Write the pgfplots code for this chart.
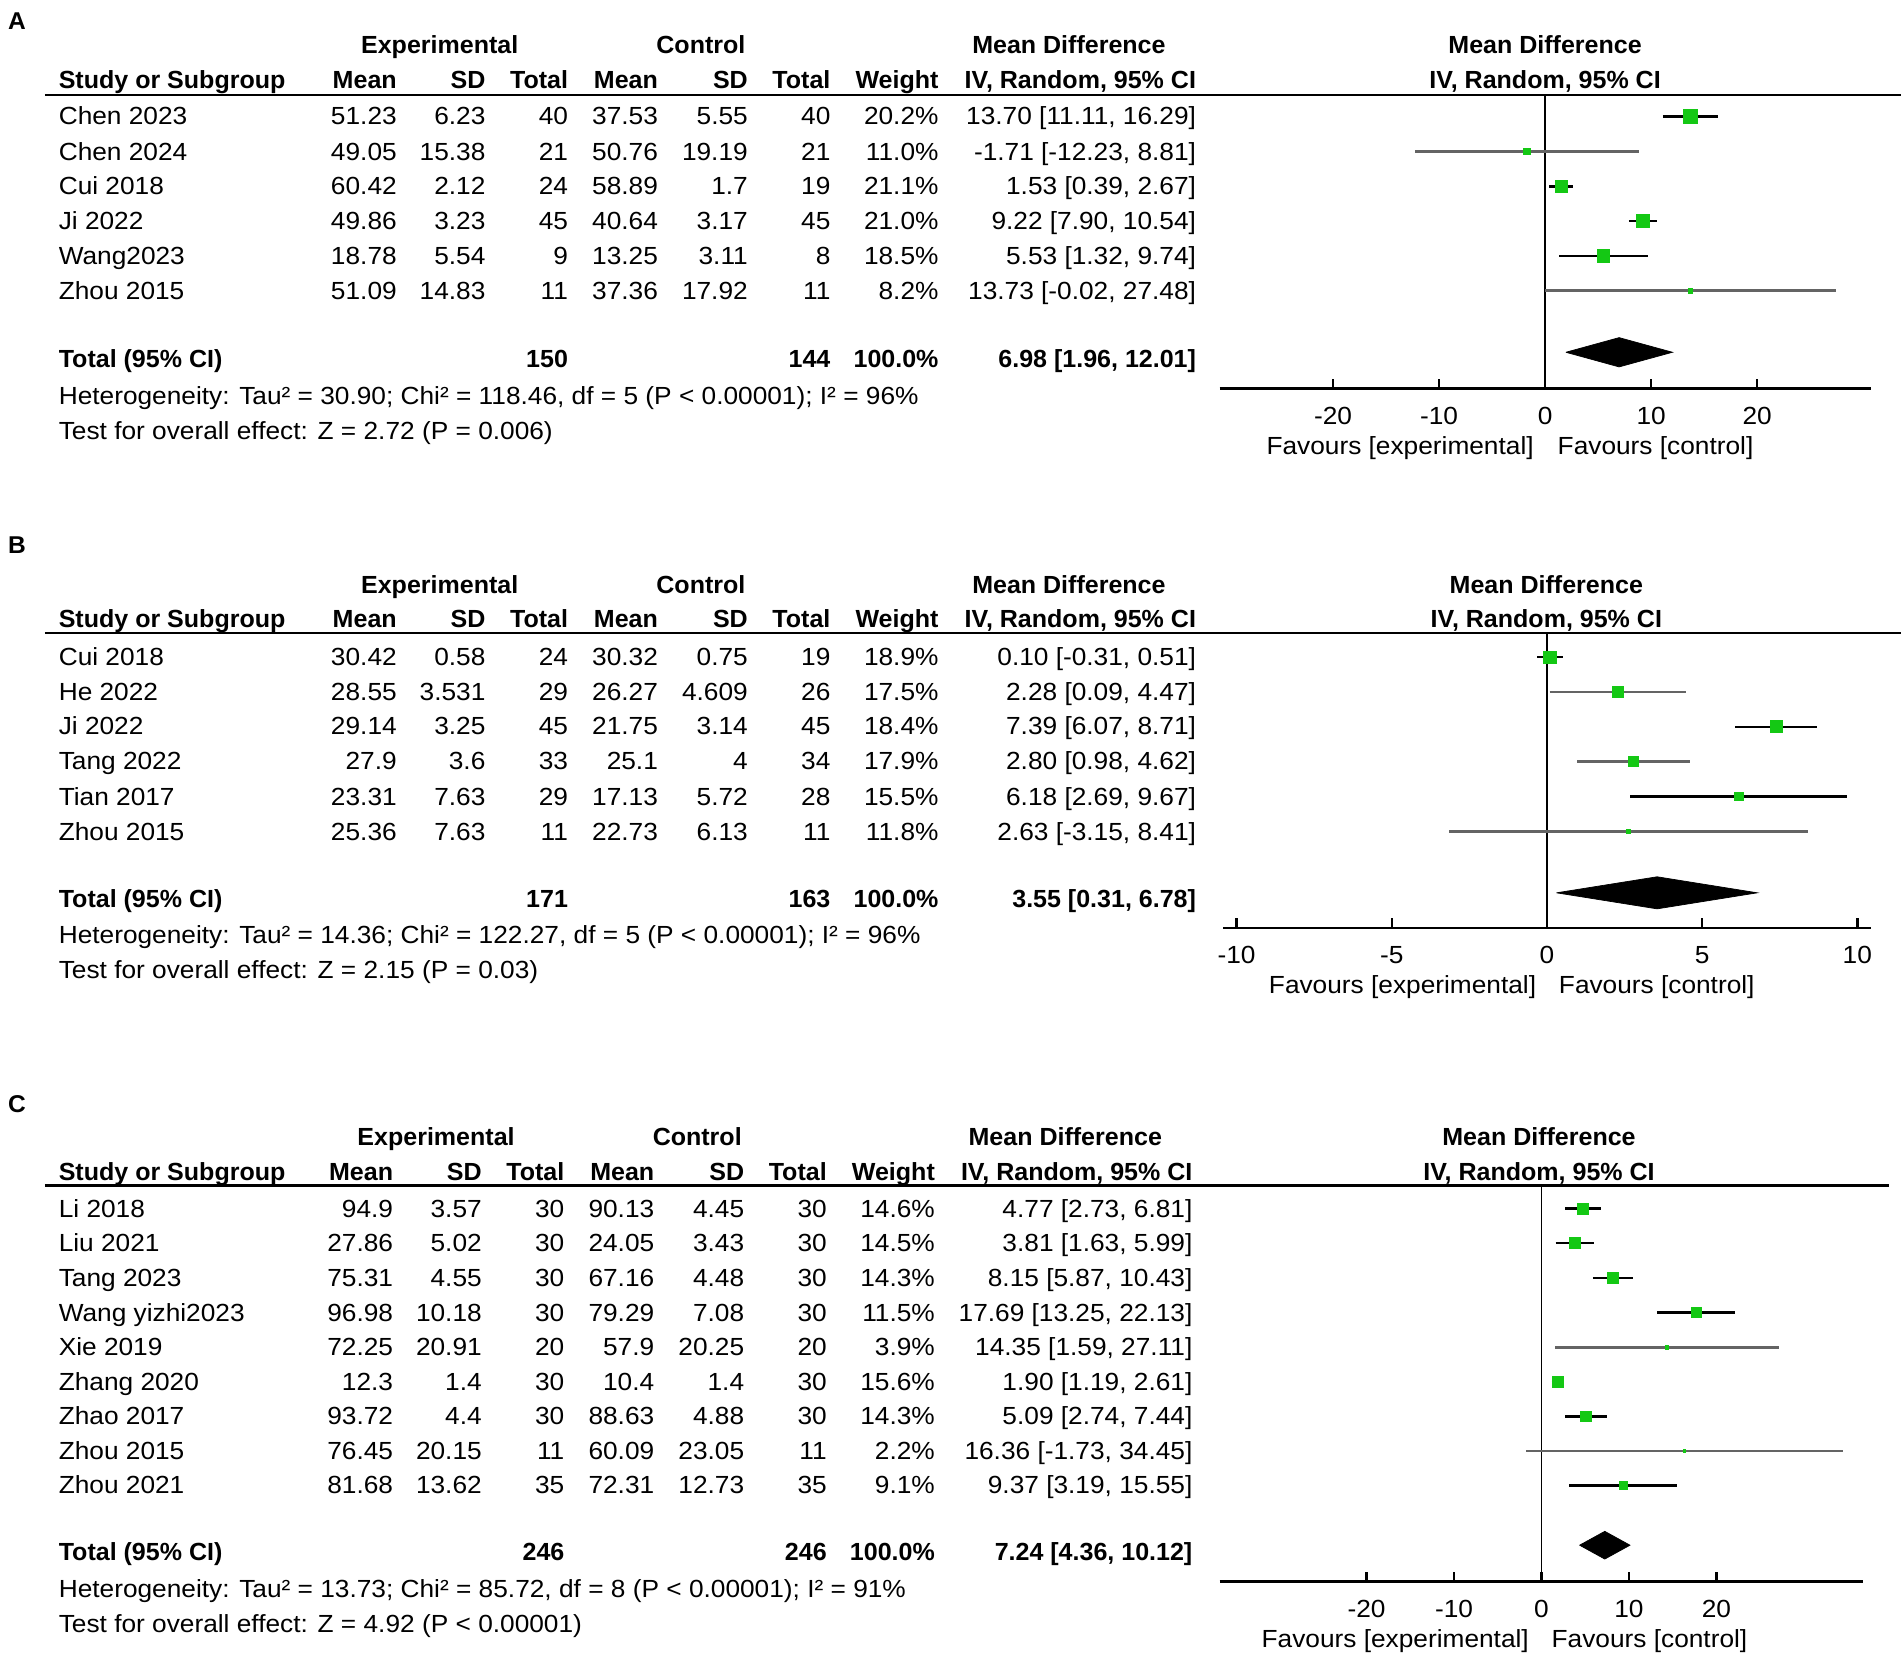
\documentclass[border=0pt]{standalone}
\usepackage{fontspec}
\setmainfont{Liberation Sans}[FakeStretch=1.06, BoldFeatures={FakeStretch=1.01}]
\usepackage{pgfplots}
\pgfplotsset{compat=1.18}
\definecolor{fgreen}{RGB}{20,200,20}
\definecolor{cigray}{RGB}{100,100,100}
\newcommand{\fs}{\fontsize{10.2}{12}\selectfont}
\tikzset{T/.style={inner sep=0pt, font=\fs, yshift=-0.8pt}}
\def\dx{0}
% study row: y, name, mean, sd, total, mean, sd, total, weight
\newcommand{\srow}[9]{%
 \node[T,anchor=mid west] at (48,#1) {#2};
 \node[T,anchor=mid east] at ({327+(\dx)},#1) {#3};
 \node[T,anchor=mid east] at ({400+(\dx)},#1) {#4};
 \node[T,anchor=mid east] at ({468+(\dx)},#1) {#5};
 \node[T,anchor=mid east] at ({542+(\dx)},#1) {#6};
 \node[T,anchor=mid east] at ({616+(\dx)},#1) {#7};
 \node[T,anchor=mid east] at ({684+(\dx)},#1) {#8};
 \node[T,anchor=mid east] at ({773+(\dx)},#1) {#9};}
\newcommand{\cic}[2]{\node[T,anchor=mid east] at ({985+(\dx)},#1) {#2};}
% headers: y1, y2, right centre
\newcommand{\heads}[3]{%
 \node[T,anchor=mid,font=\fs\bfseries] at ({362+(\dx)},#1) {Experimental};
 \node[T,anchor=mid,font=\fs\bfseries] at ({577+(\dx)},#1) {Control};
 \node[T,anchor=mid,font=\fs\bfseries] at ({880+(\dx)},#1) {Mean Difference};
 \node[T,anchor=mid,font=\fs\bfseries] at (#3,#1) {Mean Difference};
 \node[T,anchor=mid west,font=\fs\bfseries] at (48,#2) {Study or Subgroup};
 \node[T,anchor=mid east,font=\fs\bfseries] at ({327+(\dx)},#2) {Mean};
 \node[T,anchor=mid east,font=\fs\bfseries] at ({400+(\dx)},#2) {SD};
 \node[T,anchor=mid east,font=\fs\bfseries] at ({468+(\dx)},#2) {Total};
 \node[T,anchor=mid east,font=\fs\bfseries] at ({542+(\dx)},#2) {Mean};
 \node[T,anchor=mid east,font=\fs\bfseries] at ({616+(\dx)},#2) {SD};
 \node[T,anchor=mid east,font=\fs\bfseries] at ({684+(\dx)},#2) {Total};
 \node[T,anchor=mid east,font=\fs\bfseries] at ({773+(\dx)},#2) {Weight};
 \node[T,anchor=mid east,font=\fs\bfseries] at ({985+(\dx)},#2) {IV, Random, 95\% CI};
 \node[T,anchor=mid,font=\fs\bfseries] at (#3,#2) {IV, Random, 95\% CI};}
% total row: y, n1, n2, ci
\newcommand{\trow}[4]{%
 \node[T,anchor=mid west,font=\fs\bfseries] at (48,#1) {Total (95\% CI)};
 \node[T,anchor=mid east,font=\fs\bfseries] at ({468+(\dx)},#1) {#2};
 \node[T,anchor=mid east,font=\fs\bfseries] at ({684+(\dx)},#1) {#3};
 \node[T,anchor=mid east,font=\fs\bfseries] at ({773+(\dx)},#1) {100.0\%};
 \node[T,anchor=mid east,font=\fs\bfseries] at ({985+(\dx)},#1) {#4};}
\newcommand{\favours}[3]{%
 \node[T,anchor=mid east] at (#1,#3) {Favours [experimental]};
 \node[T,anchor=mid west] at (#2,#3) {Favours [control]};}
\pgfplotsset{
 forest/.style={
  scale only axis, clip=false, anchor=north west,
  axis x line*=bottom, hide y axis,
  axis line style={line width=1pt, black},
  xtick align=inside, major tick length=4pt,
  tick style={line width=1pt, black},
  tick label style={font=\fs, yshift=-4pt},
 },
 cib/.style={black, line width=1pt},
 cig/.style={cigray, line width=1.2pt},
 sq/.style={only marks, mark=square*, fgreen, mark options={fill=fgreen, draw=fgreen}},
 zl/.style={black, line width=0.7pt},
 dia/.style={fill=black, draw=black, line width=0.3pt},
}
\begin{document}
\begin{tikzpicture}[x=0.5pt, y=-0.5pt]
\useasboundingbox (0,0) rectangle (1565,1377);
\coordinate (pA) at (1004,78);
\coordinate (pB) at (1007,521);
\coordinate (pC) at (1004,976);

% ================= Panel A =================
\node[T,anchor=mid,font=\fontsize{10}{12}\selectfont\bfseries] at (14,17) {A};
\heads{37}{66}{1272}
\draw[line width=1pt] (37,78) -- (1565,78);
\srow{96}{Chen 2023}{51.23}{6.23}{40}{37.53}{5.55}{40}{20.2\%}\cic{96}{13.70 [11.11, 16.29]}
\srow{125}{Chen 2024}{49.05}{15.38}{21}{50.76}{19.19}{21}{11.0\%}\cic{125}{-1.71 [-12.23, 8.81]}
\srow{153}{Cui 2018}{60.42}{2.12}{24}{58.89}{1.7}{19}{21.1\%}\cic{153}{1.53 [0.39, 2.67]}
\srow{182}{Ji 2022}{49.86}{3.23}{45}{40.64}{3.17}{45}{21.0\%}\cic{182}{9.22 [7.90, 10.54]}
\srow{211}{Wang2023}{18.78}{5.54}{9}{13.25}{3.11}{8}{18.5\%}\cic{211}{5.53 [1.32, 9.74]}
\srow{240}{Zhou 2015}{51.09}{14.83}{11}{37.36}{17.92}{11}{8.2\%}\cic{240}{13.73 [-0.02, 27.48]}
\trow{296}{150}{144}{6.98 [1.96, 12.01]}
\node[T,anchor=mid west] at (48,326) {Heterogeneity: Tau² = 30.90; Chi² = 118.46, df = 5 (P < 0.00001); I² = 96\%};
\node[T,anchor=mid west] at (48,355) {Test for overall effect: Z = 2.72 (P = 0.006)};
\favours{1263}{1282}{367}

\begin{axis}[forest, at={(pA)}, width=268pt, height=121pt,
  xmin=-30.7, xmax=30.7, ymin=-8.805, ymax=-0.373,
  xtick={-20,-10,0,10,20}, xticklabels={-20,-10,0,10,20}]
\addplot[zl] coordinates {(0,-0.373) (0,-8.805)};
\addplot[cib] coordinates {(11.11,-1) (16.29,-1)};
\addplot[cig] coordinates {(-12.23,-2) (8.81,-2)};
\addplot[cib] coordinates {(0.39,-3) (2.67,-3)};
\addplot[cib] coordinates {(7.90,-4) (10.54,-4)};
\addplot[cib] coordinates {(1.32,-5) (9.74,-5)};
\addplot[cig] coordinates {(-0.02,-6) (27.48,-6)};
\addplot[sq, mark size=2.75pt] coordinates {(13.70,-1)};
\addplot[sq, mark size=1.25pt] coordinates {(-1.71,-2)};
\addplot[sq, mark size=2.6pt] coordinates {(1.53,-3)};
\addplot[sq, mark size=2.75pt] coordinates {(9.22,-4)};
\addplot[sq, mark size=2.5pt] coordinates {(5.53,-5)};
\addplot[sq, mark size=0.9pt] coordinates {(13.73,-6)};
\addplot[dia] coordinates {(1.96,-7.76) (6.98,-7.34) (12.01,-7.76) (6.98,-8.18) (1.96,-7.76)};
\end{axis}

% ================= Panel B =================
\node[T,anchor=mid,font=\fontsize{10}{12}\selectfont\bfseries] at (14,449) {B};
\heads{482}{510}{1273}
\draw[line width=1pt] (37,521) -- (1565,521);
\srow{541}{Cui 2018}{30.42}{0.58}{24}{30.32}{0.75}{19}{18.9\%}\cic{541}{0.10 [-0.31, 0.51]}
\srow{570}{He 2022}{28.55}{3.531}{29}{26.27}{4.609}{26}{17.5\%}\cic{570}{2.28 [0.09, 4.47]}
\srow{598}{Ji 2022}{29.14}{3.25}{45}{21.75}{3.14}{45}{18.4\%}\cic{598}{7.39 [6.07, 8.71]}
\srow{627}{Tang 2022}{27.9}{3.6}{33}{25.1}{4}{34}{17.9\%}\cic{627}{2.80 [0.98, 4.62]}
\srow{656}{Tian 2017}{23.31}{7.63}{29}{17.13}{5.72}{28}{15.5\%}\cic{656}{6.18 [2.69, 9.67]}
\srow{685}{Zhou 2015}{25.36}{7.63}{11}{22.73}{6.13}{11}{11.8\%}\cic{685}{2.63 [-3.15, 8.41]}
\trow{740}{171}{163}{3.55 [0.31, 6.78]}
\node[T,anchor=mid west] at (48,770) {Heterogeneity: Tau² = 14.36; Chi² = 122.27, df = 5 (P < 0.00001); I² = 96\%};
\node[T,anchor=mid west] at (48,799) {Test for overall effect: Z = 2.15 (P = 0.03)};
\favours{1265}{1283}{811}

\begin{axis}[forest, at={(pB)}, width=266.5pt, height=121.5pt,
  xmin=-10.43, xmax=10.43, ymin=-8.77, ymax=-0.303,
  xtick={-10,-5,0,5,10}, xticklabels={-10,-5,0,5,10}]
\addplot[zl] coordinates {(0,-0.303) (0,-8.77)};
\addplot[cib] coordinates {(-0.31,-1) (0.51,-1)};
\addplot[cig] coordinates {(0.09,-2) (4.47,-2)};
\addplot[cib] coordinates {(6.07,-3) (8.71,-3)};
\addplot[cig] coordinates {(0.98,-4) (4.62,-4)};
\addplot[cib] coordinates {(2.69,-5) (9.67,-5)};
\addplot[cig] coordinates {(-3.15,-6) (8.41,-6)};
\addplot[sq, mark size=2.5pt] coordinates {(0.10,-1)};
\addplot[sq, mark size=2.25pt] coordinates {(2.28,-2)};
\addplot[sq, mark size=2.5pt] coordinates {(7.39,-3)};
\addplot[sq, mark size=2.1pt] coordinates {(2.80,-4)};
\addplot[sq, mark size=1.75pt] coordinates {(6.18,-5)};
\addplot[sq, mark size=1.0pt] coordinates {(2.63,-6)};
\addplot[dia] coordinates {(0.31,-7.76) (3.55,-7.3) (6.78,-7.76) (3.55,-8.22) (0.31,-7.76)};
\end{axis}

% ================= Panel C =================
\def\dx{-3}
\node[T,anchor=mid,font=\fontsize{10}{12}\selectfont\bfseries] at (14,909) {C};
\heads{936}{965}{1267}
\draw[line width=1pt] (37,976) -- (1555,976);
\srow{995}{Li 2018}{94.9}{3.57}{30}{90.13}{4.45}{30}{14.6\%}\cic{995}{4.77 [2.73, 6.81]}
\srow{1023}{Liu 2021}{27.86}{5.02}{30}{24.05}{3.43}{30}{14.5\%}\cic{1023}{3.81 [1.63, 5.99]}
\srow{1052}{Tang 2023}{75.31}{4.55}{30}{67.16}{4.48}{30}{14.3\%}\cic{1052}{8.15 [5.87, 10.43]}
\srow{1081}{Wang yizhi2023}{96.98}{10.18}{30}{79.29}{7.08}{30}{11.5\%}\cic{1081}{17.69 [13.25, 22.13]}
\srow{1109}{Xie 2019}{72.25}{20.91}{20}{57.9}{20.25}{20}{3.9\%}\cic{1109}{14.35 [1.59, 27.11]}
\srow{1138}{Zhang 2020}{12.3}{1.4}{30}{10.4}{1.4}{30}{15.6\%}\cic{1138}{1.90 [1.19, 2.61]}
\srow{1166}{Zhao 2017}{93.72}{4.4}{30}{88.63}{4.88}{30}{14.3\%}\cic{1166}{5.09 [2.74, 7.44]}
\srow{1195}{Zhou 2015}{76.45}{20.15}{11}{60.09}{23.05}{11}{2.2\%}\cic{1195}{16.36 [-1.73, 34.45]}
\srow{1223}{Zhou 2021}{81.68}{13.62}{35}{72.31}{12.73}{35}{9.1\%}\cic{1223}{9.37 [3.19, 15.55]}
\trow{1278}{246}{246}{7.24 [4.36, 10.12]}
\node[T,anchor=mid west] at (48,1308) {Heterogeneity: Tau² = 13.73; Chi² = 85.72, df = 8 (P < 0.00001); I² = 91\%};
\node[T,anchor=mid west] at (48,1337) {Test for overall effect: Z = 4.92 (P < 0.00001)};
\favours{1259}{1277}{1349}

\begin{axis}[forest, at={(pC)}, width=265pt, height=163pt,
  xmin=-36.8, xmax=36.8, ymin=-11.77, ymax=-0.333,
  xtick={-20,-10,0,10,20}, xticklabels={-20,-10,0,10,20}]
\addplot[zl] coordinates {(0,-0.333) (0,-11.77)};
\addplot[cib] coordinates {(2.73,-1) (6.81,-1)};
\addplot[cib] coordinates {(1.63,-2) (5.99,-2)};
\addplot[cib] coordinates {(5.87,-3) (10.43,-3)};
\addplot[cib] coordinates {(13.25,-4) (22.13,-4)};
\addplot[cig] coordinates {(1.59,-5) (27.11,-5)};
\addplot[cib] coordinates {(1.19,-6) (2.61,-6)};
\addplot[cib] coordinates {(2.74,-7) (7.44,-7)};
\addplot[cig] coordinates {(-1.73,-8) (34.45,-8)};
\addplot[cib] coordinates {(3.19,-9) (15.55,-9)};
\addplot[sq, mark size=2.25pt] coordinates {(4.77,-1)};
\addplot[sq, mark size=2.25pt] coordinates {(3.81,-2)};
\addplot[sq, mark size=2.2pt] coordinates {(8.15,-3)};
\addplot[sq, mark size=2.0pt] coordinates {(17.69,-4)};
\addplot[sq, mark size=0.8pt] coordinates {(14.35,-5)};
\addplot[sq, mark size=2.3pt] coordinates {(1.90,-6)};
\addplot[sq, mark size=2.2pt] coordinates {(5.09,-7)};
\addplot[sq, mark size=0.55pt] coordinates {(16.36,-8)};
\addplot[sq, mark size=1.6pt] coordinates {(9.37,-9)};
\addplot[dia] coordinates {(4.36,-10.72) (7.24,-10.32) (10.12,-10.72) (7.24,-11.12) (4.36,-10.72)};
\end{axis}
\end{tikzpicture}
\end{document}
